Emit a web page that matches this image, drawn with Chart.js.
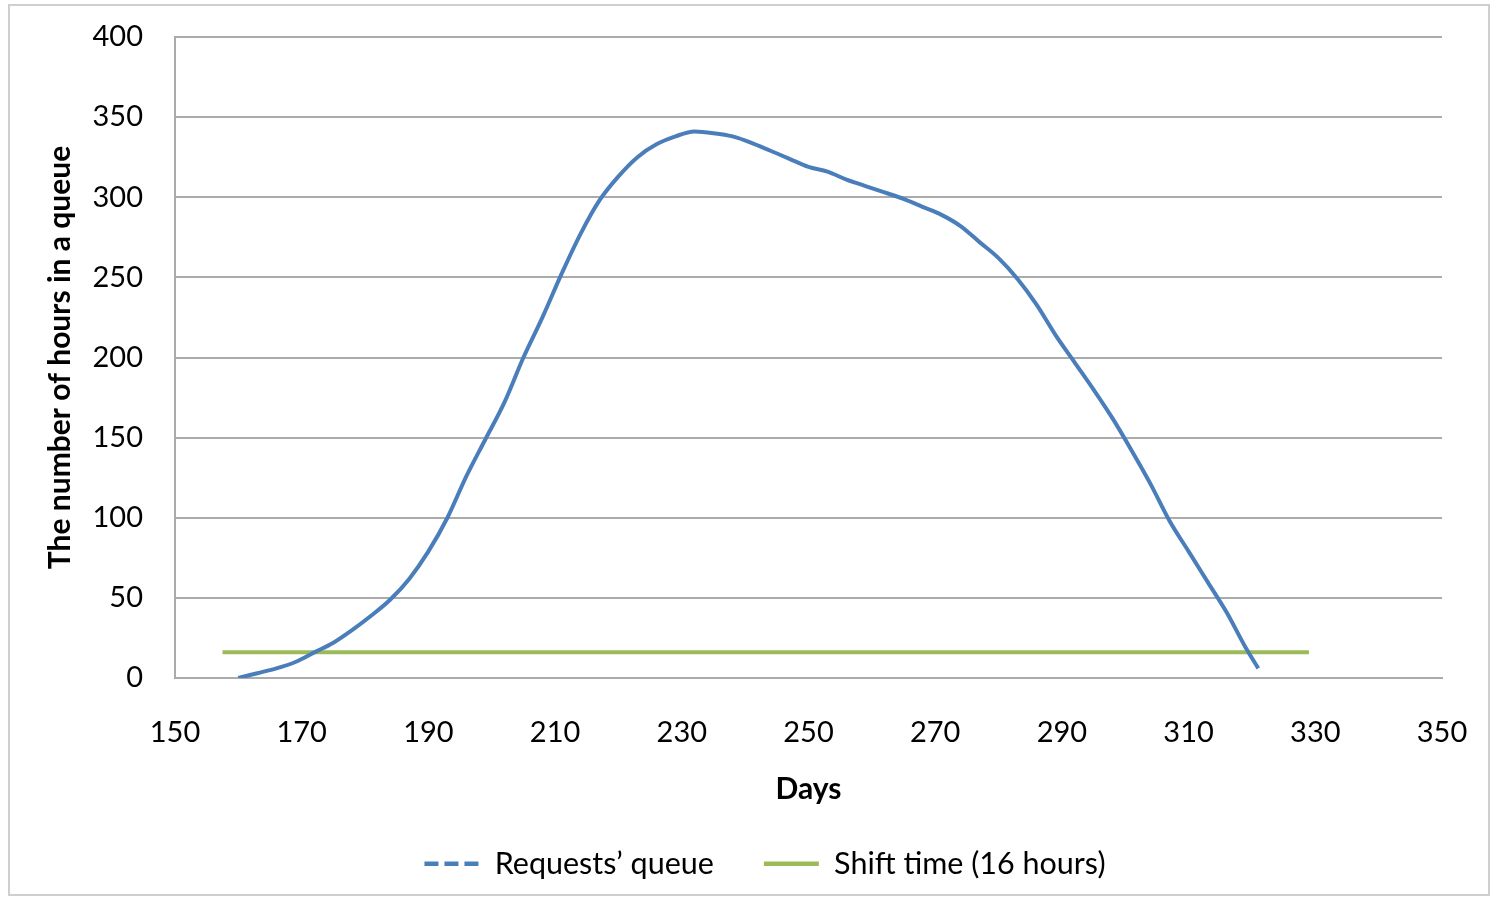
<!DOCTYPE html>
<html>
<head>
<meta charset="utf-8">
<script src="https://cdn.jsdelivr.net/npm/chart.js@4"></script>
<style>
  html, body { margin: 0; padding: 0; background: #fff; }
  #wrap { width: 1491px; height: 898px; position: relative; }
</style>
</head>
<body>
<div id="wrap"><canvas id="queueChart" width="1491" height="898"></canvas></div>
<script>
// days and the number of hours waiting in the queue
const days = [160, 163, 166, 169, 172, 175, 178, 181, 184, 187, 190, 193, 196, 199, 202, 205, 208, 211, 214, 217,
  220, 223, 226, 229, 232, 235, 238, 241, 244, 247, 250, 253, 256, 259, 262, 265, 268, 271, 274, 277,
  280, 283, 286, 289, 292, 295, 298, 301, 304, 307, 310, 313, 316, 319, 321];
const queueHours = [0, 3, 6, 10, 16, 22, 30, 39, 49, 62, 79, 100, 126, 149, 172, 200, 225, 252, 277, 298,
  313, 325, 333, 338, 341, 340, 338, 334, 329, 324, 319, 316, 311, 307, 303, 299, 294, 289, 282, 272,
  262, 249, 233, 214, 197, 180, 162, 142, 121, 98, 79, 60, 41, 19, 6];
// shift time line (16 hours)
const shiftDays = [157.5, 329];
const shiftHours = [16, 16];

const seriesNames = ['Requests\u2019 queue', 'Shift time (16 hours)'];
const xTitle = 'Days';
const yTitle = 'The number of hours in a queue';

const blue = '#4a7ebb';
const green = '#9bbb59';
const gridGray = '#ababab';
const fontFamily = 'Lato, "Open Sans", sans-serif';

const outerBox = {
  id: 'outerBox',
  afterLayout(chart) {
    // legend sits a little right of centre in the original
    chart.legend.left += 44;
    chart.legend.right += 44;
  },
  beforeDraw(chart) {
    const c = chart.ctx;
    c.save();
    c.fillStyle = '#fff';
    c.fillRect(0, 0, chart.width, chart.height);
    c.strokeStyle = '#cfcfcf';
    c.lineWidth = 2;
    c.strokeRect(9, 5, 1480, 890);
    c.restore();
  }
};

const ctx = document.getElementById('queueChart').getContext('2d');
new Chart(ctx, {
  type: 'line',
  data: {
    datasets: [{
      label: seriesNames[0],
      data: days.map((d, i) => ({ x: d, y: queueHours[i] })),
      borderColor: blue,
      backgroundColor: blue,
      borderWidth: 4,
      pointRadius: 0,
      cubicInterpolationMode: 'monotone',
      fill: false
    }, {
      label: seriesNames[1],
      data: shiftDays.map((d, i) => ({ x: d, y: shiftHours[i] })),
      borderColor: green,
      backgroundColor: green,
      borderWidth: 4,
      pointRadius: 0,
      fill: false
    }]
  },
  options: {
    responsive: false,
    animation: false,
    layout: { padding: { left: 0, right: 49, top: 37, bottom: 9 } },
    plugins: {
      legend: {
        position: 'bottom',
        labels: {
          usePointStyle: true,
          pointStyleWidth: 55,
          padding: 50,
          color: '#000',
          font: { family: fontFamily, size: 30.5 },
          generateLabels(chart) {
            const items = Chart.defaults.plugins.legend.labels.generateLabels(chart);
            items.forEach(it => { it.pointStyle = 'line'; it.lineWidth = 4.5; });
            items[0].lineDash = [14, 6];
            return items;
          }
        }
      },
      tooltip: { enabled: false }
    },
    scales: {
      x: {
        type: 'linear',
        min: 150,
        max: 350,
        afterFit(scale) { scale.height = 120.5; },
        ticks: { stepSize: 20, padding: 0, color: '#000', font: { family: fontFamily, size: 29 } },
        grid: { display: false, drawTicks: true, tickLength: 37 },
        border: { display: true, color: gridGray, width: 2 },
        title: { display: true, text: xTitle, color: '#000', padding: { top: 0, bottom: -5.5 },
          font: { family: fontFamily, size: 30, weight: 'bold', lineHeight: 1 } }
      },
      y: {
        min: 0,
        max: 400,
        afterFit(scale) { scale.width = 175; },
        ticks: { stepSize: 50, padding: 0, color: '#000', font: { family: fontFamily, size: 29 } },
        grid: { color: gridGray, lineWidth: 2, drawTicks: true, tickLength: 32, tickColor: 'rgba(0,0,0,0)' },
        border: { display: true, color: gridGray, width: 2 },
        title: { display: true, text: yTitle, color: '#000', padding: { top: 42, bottom: 0 },
          font: { family: fontFamily, size: 30, weight: 'bold', lineHeight: 1.2 } }
      }
    }
  },
  plugins: [outerBox]
});
</script>
</body>
</html>
